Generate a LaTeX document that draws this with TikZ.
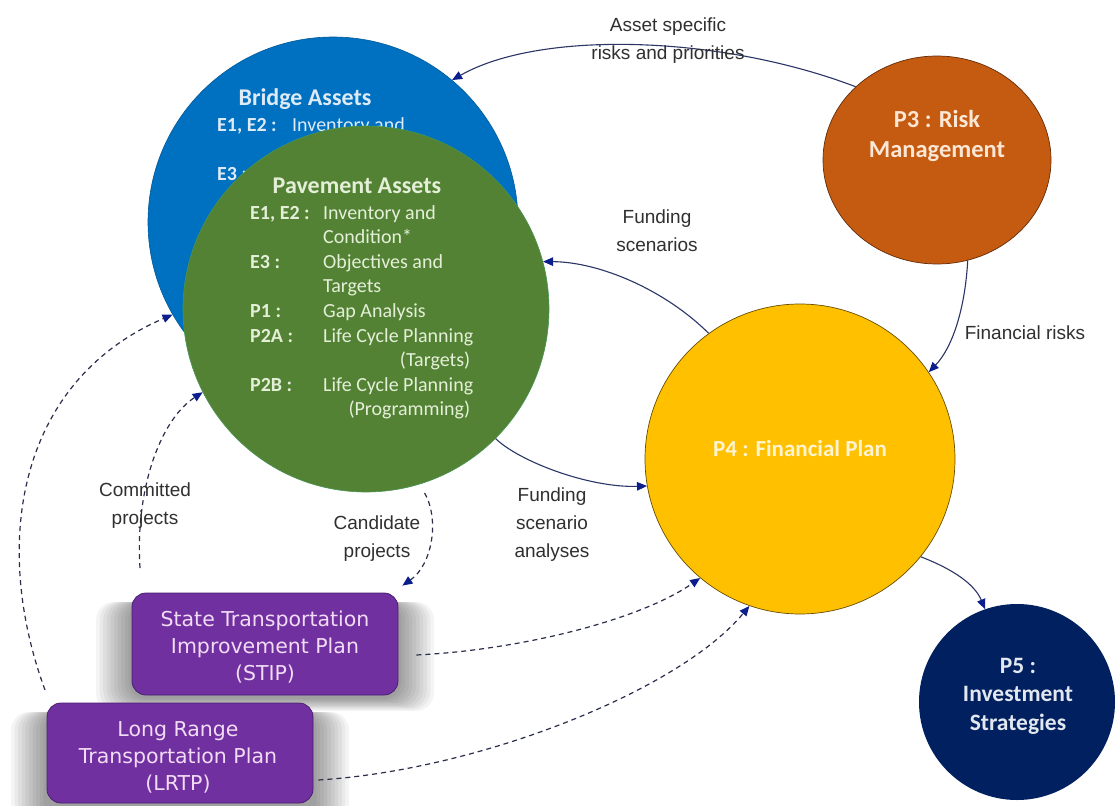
\documentclass[tikz,border=0pt]{standalone}
\usepackage{fontspec}
\setmainfont{Carlito}
\newfontfamily\labfont{Liberation Sans}
\newfontfamily\boxfont{DejaVu Sans}
\usetikzlibrary{arrows.meta,shapes.geometric}
\definecolor{bridgeblue}{HTML}{0070C0}
\definecolor{pavgreen}{HTML}{548235}
\definecolor{riskorange}{HTML}{C55A11}
\definecolor{finyellow}{HTML}{FFC000}
\definecolor{invnavy}{HTML}{002060}
\definecolor{boxpurple}{HTML}{7030A0}
\definecolor{boxborder}{HTML}{4B1F70}
\definecolor{boxtext}{HTML}{F2DCF5}
\definecolor{linecol}{HTML}{2B3566}
\definecolor{arrcol}{HTML}{0B1E8C}
\definecolor{dashcol}{HTML}{2A2E4A}
\definecolor{labcol}{HTML}{303030}
\definecolor{bridgetext}{HTML}{DEEBF7}
\definecolor{pavtext}{HTML}{E4EFD8}
\definecolor{risktext}{HTML}{FCE6D4}
\definecolor{fintext}{HTML}{FFF4D0}
\definecolor{invtext}{HTML}{E2E7F0}
\newcommand{\mlines}[1]{\begin{tabular}[t]{@{}c@{}}#1\end{tabular}}
\begin{document}
\begin{tikzpicture}[x=1pt,y=-1pt,
  circ/.style={circle, inner sep=0pt},
  txt/.style={inner sep=0pt, anchor=base},
  lab/.style={inner sep=0pt, anchor=base, text=labcol, font=\labfont\fontsize{19}{28}\selectfont},
  boxtxt/.style={inner sep=0pt, anchor=base, text=boxtext, font=\boxfont\fontsize{20.5}{27}\selectfont},
  planbox/.style={rectangle, rounded corners=14pt, fill=boxpurple, draw=boxborder, line width=0.8pt,
    minimum width=266pt, minimum height=102pt, inner sep=0pt},
  shadowlayer/.style={fill=black, opacity=0.045, rounded corners=18pt},
  conn/.style={draw=linecol, line width=1.1pt, -{Triangle[length=10pt,width=8.5pt,color=arrcol]}},
  dconn/.style={draw=dashcol, line width=1.2pt, dash pattern=on 5pt off 4pt, -{Triangle[length=10pt,width=8.5pt,color=arrcol]}}
]
\useasboundingbox (0,0) rectangle (1120,806);
\fill[white] (0,0) rectangle (1120,806);

% Bridge assets
\node[circ, fill=bridgeblue, draw=bridgeblue!80!black, line width=0.6pt, minimum size=370pt] (bridge) at (333,222) {};
\node[txt, text=bridgetext, font=\fontsize{24}{29}\selectfont\bfseries] (bridgeT) at (305,105) {Bridge Assets};
\node[inner sep=0pt, anchor=base west, text=bridgetext, font=\fontsize{20}{24.6}\selectfont] (bridgeL) at (217,131.5)
 {\begin{tabular}[t]{@{}p{75pt}@{}l@{}}
  \textbf{E1, E2 :} & Inventory and\\
   & \\
  \textbf{E3 :} &
 \end{tabular}};

% Pavement assets
\node[circ, fill=pavgreen, draw=pavgreen!85!cyan, line width=0.6pt, minimum size=366pt] (pave) at (366,309) {};
\node[txt, text=pavtext, font=\fontsize{24}{29}\selectfont\bfseries] (paveT) at (357,193) {Pavement Assets};
\node[inner sep=0pt, anchor=base west, text=pavtext, font=\fontsize{20}{24.6}\selectfont] (paveL) at (250,219)
 {\begin{tabular}[t]{@{}p{73pt}@{}l@{}}
  \textbf{E1, E2 :} & Inventory and\\
   & Condition*\\
  \textbf{E3 :} & Objectives and\\
   & Targets\\
  \textbf{P1 :} & Gap Analysis\\
  \textbf{P2A :} & Life Cycle Planning\\
   & \makebox[147pt][r]{(Targets)}\\
  \textbf{P2B :} & Life Cycle Planning\\
   & \makebox[147pt][r]{(Programming)}
 \end{tabular}};

% P3
\node[ellipse, inner sep=0pt, fill=riskorange, draw=riskorange!50!black, line width=0.7pt,
  minimum width=228pt, minimum height=208pt] (risk) at (937,160) {};
\node[txt, text=risktext, font=\fontsize{24.5}{30}\selectfont\bfseries] (riskT) at (937,127) {\mlines{P3 : Risk\\Management}};

% P4
\node[circ, fill=finyellow, draw=finyellow!40!black, line width=0.7pt, minimum size=310pt] (fin) at (800,459) {};
\node[txt, text=fintext, font=\fontsize{23}{28}\selectfont\bfseries] (finT) at (800,456) {P4 : Financial Plan};

% P5
\node[circ, fill=invnavy, minimum size=196pt] (inv) at (1017,702) {};
\node[txt, text=invtext, font=\fontsize{23.5}{28.5}\selectfont\bfseries] (invT) at (1018,673) {\mlines{P5 :\\Investment\\Strategies}};

% Plan boxes with soft shadows
\foreach \k in {1,...,10} {
  \fill[shadowlayer] (132-3.6*\k, 602) rectangle (398+3.6*\k, 698+1.3*\k);
}
\node[planbox] (stip) at (265,644) {};
\node[boxtxt] (stipT) at (265,626) {\mlines{State Transportation\\Improvement Plan\\(STIP)}};
\foreach \k in {1,...,10} {
  \fill[shadowlayer] (47-3.6*\k, 712) rectangle (313+3.6*\k, 820);
}
\node[planbox, minimum height=100pt] (lrtp) at (180,753) {};
\node[boxtxt] (lrtpT) at (178,736) {\mlines{Long Range\\Transportation Plan\\(LRTP)}};

% Solid connectors
\draw[conn] (risk.138) .. controls (720,35) and (540,30) .. (bridge.50);
\draw[conn] (fin.126) .. controls (665,290) and (600,262) .. (pave.15);
\draw[conn] (risk.287) .. controls (965,310) and (952,348) .. (fin.34);
\draw[conn] (pave.315) .. controls (520,462) and (590,488) .. (fin.190);
\draw[conn] (fin.321) .. controls (955,570) and (975,585) .. (inv.109);

% Dashed connectors
\coordinate (lrtpStart) at (45,690);
\coordinate (commStart) at (140,568);
\draw[dconn] (lrtpStart) .. controls (-10,540) and (20,380) .. (bridge.210);
\draw[dconn] (commStart) .. controls (135,490) and (160,420) .. (pave.207);
\draw[dconn, shorten <=10pt] (pave.287) .. controls (440,520) and (432,565) .. ([xshift=4pt,yshift=7pt]stip.north east);
\draw[dconn] ([xshift=18pt,yshift=-11pt]stip.east) .. controls (520,650) and (640,620) .. (fin.230);
\draw[dconn] ([xshift=5pt,yshift=-27pt]lrtp.east) .. controls (480,770) and (680,690) .. (fin.251);

% Labels
\node[lab] (lAsset) at (668,31) {\mlines{Asset specific\\risks and priorities}};
\node[lab] (lFund) at (657,223) {\mlines{Funding\\scenarios}};
\node[lab] (lFinRisk) at (1025,339) {Financial risks};
\node[lab] (lFSA) at (552,501) {\mlines{Funding\\scenario\\analyses}};
\node[lab] (lComm) at (145,496) {\mlines{Committed\\projects}};
\node[lab] (lCand) at (377,529) {\mlines{Candidate\\projects}};
\end{tikzpicture}
\end{document}
